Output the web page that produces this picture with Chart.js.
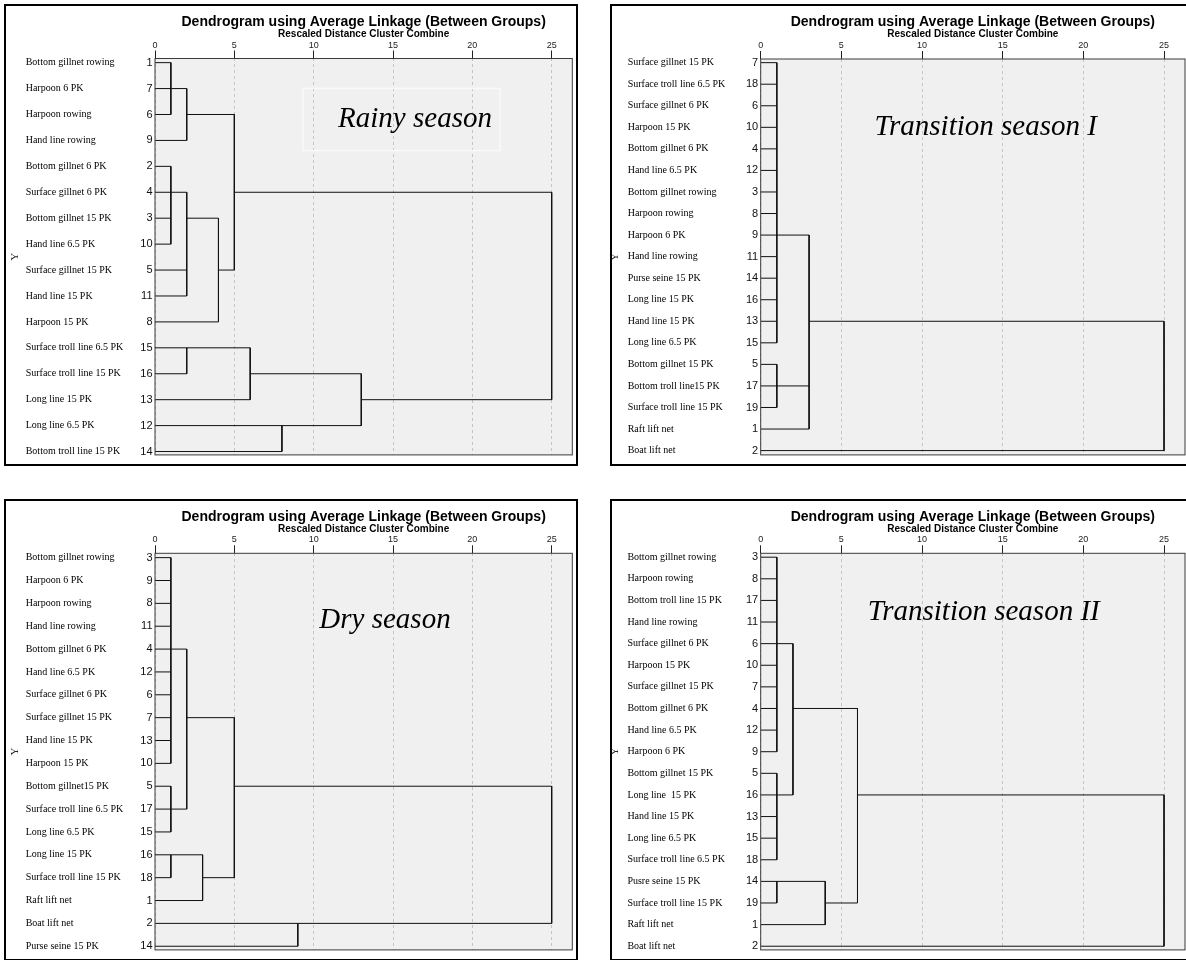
<!DOCTYPE html>
<html>
<head>
<meta charset="utf-8">
<script src="https://cdn.jsdelivr.net/npm/chart.js@4.4.1/dist/chart.umd.min.js"></script>
<style>
  html, body { margin: 0; padding: 0; background: #fff; overflow: hidden; }
  body { width: 1186px; height: 960px; position: relative; }
  .panel { position: absolute; border: 2px solid #000; background: #fff; }
  .panel canvas { display: block; }
</style>
</head>
<body>
<div class="panel" id="p1"><canvas id="c1"></canvas></div>
<div class="panel" id="p2"><canvas id="c2"></canvas></div>
<div class="panel" id="p3"><canvas id="c3"></canvas></div>
<div class="panel" id="p4"><canvas id="c4"></canvas></div>
<script>
// rescaled distance axis
const distanceTicks = [0, 5, 10, 15, 20, 25];

// Rainy season
const rainyLabels = ['Bottom gillnet rowing', 'Harpoon 6 PK', 'Harpoon rowing', 'Hand line rowing',
  'Bottom gillnet 6 PK', 'Surface gillnet 6 PK', 'Bottom gillnet 15 PK', 'Hand line 6.5 PK',
  'Surface gillnet 15 PK', 'Hand line 15 PK', 'Harpoon 15 PK', 'Surface troll line 6.5 PK',
  'Surface troll line 15 PK', 'Long line 15 PK', 'Long line 6.5 PK', 'Bottom troll line 15 PK'];
const rainyCases = [1, 7, 6, 9, 2, 4, 3, 10, 5, 11, 8, 15, 16, 13, 12, 14];
// [cluster, joined cases/clusters, distance, case whose row the cluster leaves from (optional)]
const rainyLinks = [
  ['a', [1, 6, 7], 1],
  ['b', ['a', 9], 2],
  ['c', [2, 4, 3, 10], 1],
  ['d', ['c', 5, 11], 2, 3],
  ['e', ['d', 8], 4],
  ['f', ['b', 'e'], 5],
  ['g', [15, 16], 2],
  ['h', ['g', 13], 6],
  ['i', [12, 14], 8],
  ['j', ['h', 'i'], 13],
  ['k', ['f', 'j'], 25]
];

// Transition season I
const trans1Labels = ['Surface gillnet 15 PK', 'Surface troll line 6.5 PK', 'Surface gillnet 6 PK', 'Harpoon 15 PK',
  'Bottom gillnet 6 PK', 'Hand line 6.5 PK', 'Bottom gillnet rowing', 'Harpoon rowing', 'Harpoon 6 PK',
  'Hand line rowing', 'Purse seine 15 PK', 'Long line 15 PK', 'Hand line 15 PK', 'Long line 6.5 PK',
  'Bottom gillnet 15 PK', 'Bottom troll line15 PK', 'Surface troll line 15 PK', 'Raft lift net', 'Boat lift net'];
const trans1Cases = [7, 18, 6, 10, 4, 12, 3, 8, 9, 11, 14, 16, 13, 15, 5, 17, 19, 1, 2];
const trans1Links = [
  ['a', [7, 18, 6, 10, 4, 12, 3, 8, 9, 11, 14, 16, 13, 15], 1, 9],
  ['b', [5, 17, 19], 1],
  ['c', ['a', 'b', 1], 3],
  ['d', ['c', 2], 25]
];

// Dry season
const dryLabels = ['Bottom gillnet rowing', 'Harpoon 6 PK', 'Harpoon rowing', 'Hand line rowing',
  'Bottom gillnet 6 PK', 'Hand line 6.5 PK', 'Surface gillnet 6 PK', 'Surface gillnet 15 PK', 'Hand line 15 PK',
  'Harpoon 15 PK', 'Bottom gillnet15 PK', 'Surface troll line 6.5 PK', 'Long line 6.5 PK', 'Long line 15 PK',
  'Surface troll line 15 PK', 'Raft lift net', 'Boat lift net', 'Purse seine 15 PK'];
const dryCases = [3, 9, 8, 11, 4, 12, 6, 7, 13, 10, 5, 17, 15, 16, 18, 1, 2, 14];
const dryLinks = [
  ['a', [3, 9, 8, 11, 4, 12, 6, 7, 13, 10], 1],
  ['b', [5, 17, 15], 1],
  ['c', ['a', 'b'], 2],
  ['d', [16, 18], 1],
  ['e', ['d', 1], 3],
  ['f', ['c', 'e'], 5],
  ['g', [2, 14], 9],
  ['h', ['f', 'g'], 25]
];

// Transition season II
const trans2Labels = ['Bottom gillnet rowing', 'Harpoon rowing', 'Bottom troll line 15 PK', 'Hand line rowing',
  'Surface gillnet 6 PK', 'Harpoon 15 PK', 'Surface gillnet 15 PK', 'Bottom gillnet 6 PK', 'Hand line 6.5 PK',
  'Harpoon 6 PK', 'Bottom gillnet 15 PK', 'Long line  15 PK', 'Hand line 15 PK', 'Long line 6.5 PK',
  'Surface troll line 6.5 PK', 'Pusre seine 15 PK', 'Surface troll line 15 PK', 'Raft lift net', 'Boat lift net'];
const trans2Cases = [3, 8, 17, 11, 6, 10, 7, 4, 12, 9, 5, 16, 13, 15, 18, 14, 19, 1, 2];
const trans2Links = [
  ['a', [3, 8, 17, 11, 6, 10, 7, 4, 12, 9], 1],
  ['b', [5, 16, 13, 15, 18], 1, 16],
  ['c', ['a', 'b'], 2],
  ['d', [14, 19], 1],
  ['e', ['d', 1], 4],
  ['f', ['c', 'e'], 6],
  ['g', ['f', 2], 25]
];

const TITLE = 'Dendrogram using Average Linkage (Between Groups)';
const SUBTITLE = 'Rescaled Distance Cluster Combine';
const SANS = '"Liberation Sans", Arial, sans-serif';
const SERIF = '"Liberation Serif", "Times New Roman", serif';

// layout of the four panels (page position, canvas size, paddings)
const panels = [
  { id: 'c1', div: 'p1', left: 4, top: 4, w: 570, h: 458, labels: rainyLabels, cases: rainyCases, links: rainyLinks,
    season: 'Rainy season', axisW: 149, padR: 3.7, padB: 7.3, rowPad: [0.16, 0.13], xMax: 26.3,
    nameGap: 129.3, yTitlePad: 4, subPadB: 0.9, note: [260, 61], noteBox: [148, 30, 345, 92] },
  { id: 'c2', div: 'p2', left: 610, top: 4, w: 578, h: 458, labels: trans1Labels, cases: trans1Cases, links: trans1Links,
    season: 'Transition season I', axisW: 148.7, padR: 5, padB: 5.7, rowPad: [0.17, 0.2], xMax: 26.3,
    nameGap: 133, yTitlePad: -2, subPadB: 1.4, note: [225, 68] },
  { id: 'c3', div: 'p3', left: 4, top: 499, w: 570, h: 458, labels: dryLabels, cases: dryCases, links: dryLinks,
    season: 'Dry season', axisW: 149, padR: 3.7, padB: 3.5, rowPad: [0.19, 0.16], xMax: 26.3,
    nameGap: 129.3, yTitlePad: 4, subPadB: 0.7, note: [230, 67] },
  { id: 'c4', div: 'p4', left: 610, top: 499, w: 578, h: 458, labels: trans2Labels, cases: trans2Cases, links: trans2Links,
    season: 'Transition season II', axisW: 148.7, padR: 5, padB: 3, rowPad: [0.18, 0.17], xMax: 26.3,
    nameGap: 133.3, yTitlePad: -2, subPadB: 0.7, note: [223, 59] }
];

// turn the merge list into line segments [[x1, row1], [x2, row2]]
function buildSegments(cases, links) {
  const row = {};
  const dist = {};
  cases.forEach((c, i) => { row[c] = i; dist[c] = 0; });
  const segs = [];
  links.forEach(([name, kids, d, fromCase]) => {
    const rows = kids.map(k => row[k]);
    const lo = Math.min(...rows);
    const hi = Math.max(...rows);
    kids.forEach(k => segs.push([[dist[k], row[k]], [d, row[k]]]));
    segs.push([[d, lo], [d, hi]]);
    row[name] = fromCase !== undefined ? row[fromCase] : Math.floor((lo + hi) / 2);
    dist[name] = d;
  });
  return segs;
}

const plotFrame = {
  id: 'plotFrame',
  beforeDraw(chart) {
    const { ctx, chartArea: a } = chart;
    ctx.save();
    ctx.fillStyle = '#f0f0f0';
    ctx.fillRect(a.left, a.top, a.right - a.left, a.bottom - a.top);
    ctx.restore();
  },
  afterDatasetsDraw(chart) {
    const { ctx, chartArea: a } = chart;
    ctx.save();
    ctx.strokeStyle = '#3a3a3a';
    ctx.lineWidth = 1;
    ctx.strokeRect(a.left, a.top, a.right - a.left, a.bottom - a.top);
    ctx.restore();
  }
};

const rowNames = {
  id: 'rowNames',
  afterDraw(chart, args, opts) {
    const { ctx, chartArea: a } = chart;
    const y = chart.scales.y;
    ctx.save();
    ctx.font = '10px ' + SERIF;
    ctx.fillStyle = '#000';
    ctx.textAlign = 'left';
    ctx.textBaseline = 'middle';
    opts.labels.forEach((name, i) => {
      ctx.fillText(name, a.left - opts.gap, y.getPixelForValue(i));
    });
    // faint text box behind the caption (rainy panel only)
    if (opts.noteBox) {
      const [bx, by, bx2, by2] = opts.noteBox;
      ctx.strokeStyle = '#f9f9f9';
      ctx.lineWidth = 1.5;
      ctx.strokeRect(a.left + bx, a.top + by, bx2 - bx, by2 - by);
    }
    // season caption inside the plot
    ctx.font = 'italic 29px ' + SERIF;
    ctx.textAlign = 'center';
    ctx.fillText(opts.season, a.left + opts.note[0], a.top + opts.note[1]);
    ctx.restore();
  }
};

panels.forEach(p => {
  const div = document.getElementById(p.div);
  div.style.left = p.left + 'px';
  div.style.top = p.top + 'px';
  div.style.width = p.w + 'px';
  div.style.height = p.h + 'px';
  const canvas = document.getElementById(p.id);
  canvas.width = p.w;
  canvas.height = p.h;
  canvas.style.width = p.w + 'px';
  canvas.style.height = p.h + 'px';

  const segs = buildSegments(p.cases, p.links);
  const n = p.cases.length;

  new Chart(canvas, {
    type: 'scatter',
    data: {
      datasets: segs.map(s => ({
        data: [{ x: s[0][0], y: s[0][1] }, { x: s[1][0], y: s[1][1] }],
        showLine: true,
        borderColor: '#111',
        borderWidth: 1,
        pointRadius: 0,
        fill: false
      }))
    },
    options: {
      responsive: false,
      animation: false,
      events: [],
      layout: { padding: { top: 0, left: 0, right: p.padR, bottom: p.padB } },
      plugins: {
        legend: { display: false },
        tooltip: { enabled: false },
        title: {
          display: true,
          text: TITLE,
          fullSize: false,
          color: '#000',
          font: { family: SANS, size: 14, weight: 'bold', lineHeight: 1 },
          padding: { top: 9.2, bottom: -1.4 }
        },
        subtitle: {
          display: true,
          text: SUBTITLE,
          fullSize: false,
          color: '#000',
          font: { family: SANS, size: 10, weight: 'bold', lineHeight: 1 },
          padding: { top: 1, bottom: p.subPadB }
        },
        rowNames: { labels: p.labels, gap: p.nameGap, season: p.season, note: p.note, noteBox: p.noteBox }
      },
      scales: {
        x: {
          type: 'linear',
          position: 'top',
          min: 0,
          max: p.xMax,
          afterBuildTicks: axis => { axis.ticks = distanceTicks.map(v => ({ value: v })); },
          ticks: { font: { family: SANS, size: 9 }, color: '#222', padding: 0, maxRotation: 0, autoSkip: false },
          grid: { color: '#c4c4c4', lineWidth: 1, drawTicks: true, tickLength: 8, tickColor: '#222', tickWidth: 1 },
          border: { display: false, dash: [3, 3] }
        },
        y: {
          type: 'linear',
          position: 'left',
          reverse: true,
          min: -p.rowPad[0],
          max: n - 1 + p.rowPad[1],
          afterBuildTicks: axis => { axis.ticks = p.cases.map((c, i) => ({ value: i })); },
          afterFit: axis => { axis.width = p.axisW; },
          ticks: {
            callback: v => p.cases[v],
            font: { family: SANS, size: 11 },
            color: '#111',
            padding: 2.5,
            autoSkip: false
          },
          grid: { display: false, drawTicks: false },
          border: { display: false },
          title: {
            display: true,
            text: 'Y',
            color: '#222',
            font: { family: SERIF, size: 11, lineHeight: 1 },
            padding: { top: p.yTitlePad, bottom: 0 }
          }
        }
      }
    },
    plugins: [plotFrame, rowNames]
  });
});
</script>
</body>
</html>
